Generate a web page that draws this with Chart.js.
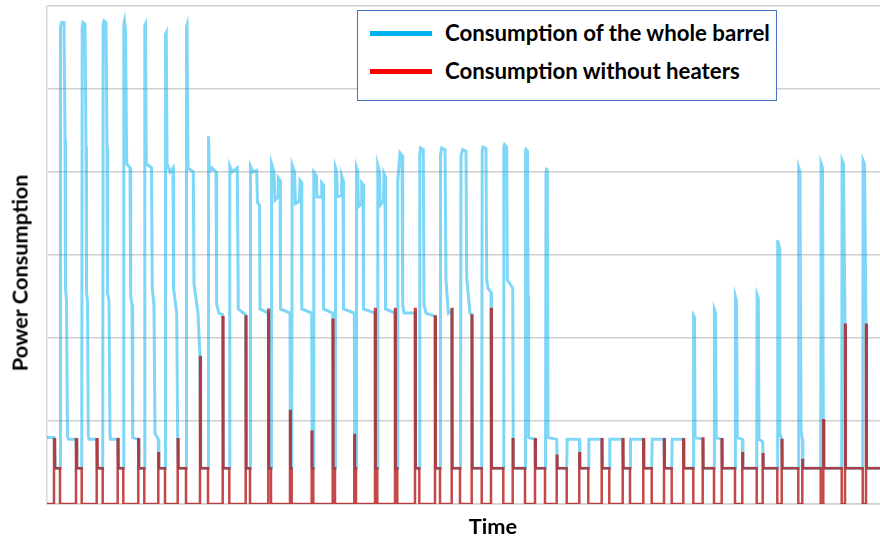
<!DOCTYPE html>
<html>
<head>
<meta charset="utf-8">
<script src="https://cdn.jsdelivr.net/npm/chart.js@4"></script>
<style>
  html, body { margin: 0; padding: 0; background: #fff; }
  #wrap { position: relative; width: 880px; height: 539px; overflow: hidden; font-family: Lato, "Open Sans", sans-serif; }
  #c { position: absolute; left: 0; top: 0; }
  .lbl { position: absolute; font-weight: bold; color: #000; white-space: nowrap; line-height: 1; }
  #legend { position: absolute; left: 357px; top: 10px; width: 418px; height: 89px; border: 1.5px solid #4472C4; background: #fff; }
  .sw { position: absolute; left: 12px; width: 62px; height: 5px; }
  .lt { position: absolute; left: 87px; font-weight: bold; white-space: nowrap; line-height: 1; color: #000; }
</style>
</head>
<body>
<div id="wrap">
  <canvas id="c" width="880" height="539"></canvas>
  <div id="legend">
    <div class="sw" style="top:20px; background:#00B0F0;"></div>
    <div class="lt" id="lt1">Consumption of the whole barrel</div>
    <div class="sw" style="top:58px; background:#FF0000;"></div>
    <div class="lt" id="lt2">Consumption without heaters</div>
  </div>
  <div class="lbl" id="ytitle">Power Consumption</div>
  <div class="lbl" id="xtitle">Time</div>
</div>
<script>
// ---- data (time in arbitrary units, power in arbitrary units) ----
const seriesNames = ["Consumption of the whole barrel", "Consumption without heaters"];
const yTicks = [0, 1, 2, 3, 4, 5, 6];

const blueTime = [47,54,54.5,55.3,60,60.5,61.5,64,65,65.5,66.5,67.5,68.5,76,76.8,81.7,82.2,83,85,86,86.5,87.5,88.3,89,96.7,97.4,102.7,103.2,104,106,107,107.5,109,110,110.5,117.7,118.4,123.3,123.8,124.5,125.5,126.7,130,130.7,132,132.7,138.3,138.9,144.3,144.8,145.5,146.3,151.5,152.3,154,155,158.3,158.9,165,165.5,166.3,167,170,173,173.5,176.7,177.7,178.4,186,186.5,187,188,193.3,194,198,200,200.6,208,208.5,209.3,212,216,216.7,219,222.7,223.3,229.3,229.8,232,237.3,238.3,245.7,246.3,250,250.5,253,256.7,257.5,259.5,260,268.3,268.9,271,271.5,274,275,278,278.3,280,280.5,290,290.5,291.7,292.2,294.5,295.5,299.5,300,301.3,301.8,311.7,312.2,313.3,313.8,316.5,317,321.3,321.7,323,323.5,332.7,333.3,335,335.5,336.7,337.2,341.3,341.7,343,343.5,354.3,354.8,356,356.5,357.8,358.3,361.3,361.7,363,363.5,375,375.6,377.3,377.8,379.5,380.2,383.5,384,385,385.5,395,395.6,397.3,397.8,400,402,402.7,404,415,415.6,419.3,419.8,420.5,423.3,424,426,435,435.6,440,440.5,441.7,445,446,448.3,451.7,452.3,460.5,461,462.7,466,466.7,470,471.7,472.3,481.7,482.2,483,486,486.7,488,491,491.6,503.3,503.8,504.5,506.7,507.3,510,512.7,513.3,525,525.5,526,527.5,528,528.6,535,535.6,545.5,546,546.5,547.3,548,556.7,557.3,566.7,567.2,579.3,579.9,588.3,588.8,601.7,602.3,609.3,609.8,622.7,623.3,630,630.5,643.3,643.9,651.7,652.2,664,664.6,671.7,672.2,683.3,683.9,693.3,693.6,694.5,695,702.7,703.3,714,714.4,715.5,716.2,721.7,722.3,735,735.4,736.5,737.3,742.3,742.9,756.7,757.1,758.3,759,762.7,763.3,777.3,777.7,779,779.8,781.7,782.3,798.3,798.7,800,801,802.3,802.9,820.7,821.1,822.5,823.3,823.9,841.7,842.1,843.5,845,845.6,862.7,863.1,864.5,866,866.6,880];
const bluePower = [0.8,0.8,0.78,0.43,0.43,5.75,5.8,5.8,4.4,2.6,2.45,0.82,0.78,0.78,0.43,0.43,5.75,5.8,5.78,4.3,2.55,2.45,0.82,0.78,0.78,0.43,0.43,5.78,5.82,5.8,4.3,2.55,2.45,0.82,0.78,0.78,0.43,0.43,5.78,5.82,5.7,4.1,4.05,2.5,2.4,0.8,0.78,0.43,0.43,5.76,5.78,4.1,4.05,2.6,2.4,0.85,0.78,0.43,0.43,5.66,5.68,4.1,4.0,4.05,2.6,2.3,0.78,0.43,0.43,5.75,5.77,4.05,4.0,2.65,2.3,1.77,0.43,0.43,4.43,4.0,4.05,4.0,2.4,2.3,2.28,0.43,0.43,4.07,4.0,4.05,2.35,2.28,0.43,0.43,4.07,4.0,4.02,3.63,3.6,2.35,2.3,0.43,0.43,4.1,4.0,3.66,3.7,3.93,3.9,2.35,2.3,0.43,0.43,4.08,4.0,3.62,3.65,3.9,3.88,2.35,2.3,0.43,0.43,4.0,3.95,3.7,3.7,3.87,3.85,2.35,2.3,0.43,0.43,4.05,4.0,3.7,3.72,3.95,3.9,2.35,2.3,0.43,0.43,4.05,4.0,3.58,3.62,3.87,3.85,2.35,2.3,0.43,0.43,4.08,4.0,3.6,3.65,3.98,3.95,2.35,2.3,0.43,0.43,3.9,4.23,4.2,2.4,2.3,2.3,0.43,0.43,4.2,4.29,4.27,2.4,2.3,2.26,0.43,0.43,4.2,4.29,4.27,2.7,2.3,2.33,0.43,0.43,4.2,4.27,4.25,2.73,2.3,2.28,0.43,0.43,4.25,4.3,4.28,2.7,2.6,2.55,0.43,0.43,4.3,4.33,4.3,2.7,2.65,2.6,0.43,0.43,4.25,4.27,4.25,2.5,0.8,0.78,0.43,0.43,4.0,4.05,4.0,0.8,0.78,0.43,0.43,0.78,0.78,0.43,0.43,0.78,0.78,0.43,0.43,0.78,0.78,0.43,0.43,0.78,0.78,0.43,0.43,0.78,0.78,0.43,0.43,0.78,0.78,0.43,0.43,2.27,2.25,0.8,0.78,0.43,0.43,2.34,2.3,0.8,0.78,0.43,0.43,2.5,2.45,0.8,0.78,0.43,0.43,2.52,2.48,0.78,0.75,0.43,0.43,3.18,3.1,0.85,0.78,0.43,0.43,4.05,4.0,0.9,0.78,0.43,0.43,4.1,4.05,1.01,0.43,0.43,4.14,4.1,2.16,0.43,0.43,4.14,4.1,2.16,0.43,0.43];

const redTime = [47,54,55,60,76,77,81.7,96.7,97.5,102.7,117.7,118.5,123.3,138.3,139,144.3,158.3,159,165,177.7,178.5,186,200,200.7,208,222.7,223.4,229.3,245.7,246.4,250,268.3,269,271,290,290.7,291.7,311.7,312.3,313.3,332.7,333.4,335,354.3,354.9,356,375,375.7,377.3,395,395.7,397.3,415,415.7,419.3,435,435.7,440,451.7,452.4,460,471.7,472.4,481.7,491,491.7,503.3,512.7,513.4,525,535,535.7,545,556.7,557.4,566.7,579.3,580,588.3,601.7,602.4,609.3,622.7,623.4,630,643.3,644,651.7,664,664.7,671.7,683.3,684,693.3,702.7,703.4,714,721.7,722.4,735,742.3,743,756.7,762.7,763.4,777.3,781.7,782.4,798.3,802.3,803,820.7,823.3,824,841.7,845,845.7,862.7,866,866.7,880];
const redPower = [0,0.78,0.43,0,0.78,0.43,0,0.78,0.43,0,0.78,0.43,0,0.78,0.43,0,0.61,0.43,0,0.78,0.43,0,1.77,0.43,0,2.25,0.43,0,2.26,0.43,0,2.34,0.43,0,1.12,0.43,0,0.87,0.43,0,2.22,0.43,0,0.83,0.43,0,2.35,0.43,0,2.35,0.43,0,2.35,0.43,0,2.26,0.43,0,2.35,0.43,0,2.27,0.43,0,2.35,0.43,0,0.78,0.43,0,0.78,0.43,0,0.58,0.43,0,0.61,0.43,0,0.78,0.43,0,0.78,0.43,0,0.78,0.43,0,0.78,0.43,0,0.78,0.43,0,0.79,0.43,0,0.78,0.43,0,0.61,0.43,0,0.6,0.43,0,0.77,0.43,0,0.53,0.43,0,1.01,0.43,0,2.16,0.43,0,2.16,0.43,0.43];

// ---- chart ----
const toPts = (t, v) => t.map((x, i) => ({ x: x, y: v[i] }));

new Chart(document.getElementById('c'), {
  type: 'line',
  data: {
    datasets: [
      {
        label: seriesNames[1],
        data: toPts(redTime, redPower),
        borderColor: 'rgba(180,20,20,0.78)',
        borderWidth: 2.5,
        stepped: true,
        pointRadius: 0,
        order: 0
      },
      {
        label: seriesNames[0],
        data: toPts(blueTime, bluePower),
        borderColor: 'rgba(0,176,240,0.5)',
        borderWidth: 3,
        tension: 0,
        pointRadius: 0,
        order: 1
      }
    ]
  },
  options: {
    responsive: false,
    animation: false,
    layout: { padding: { top: 6, right: 0, left: 0, bottom: 0 } },
    plugins: { legend: { display: false }, tooltip: { enabled: false } },
    scales: {
      x: {
        type: 'linear',
        min: 47, max: 880,
        ticks: { display: false },
        grid: { display: false },
        border: { display: true, color: '#d0d0d0', width: 1.5 },
        afterFit: s => { s.height = 35; }
      },
      y: {
        min: 0, max: 6,
        afterBuildTicks: s => { s.ticks = yTicks.map(v => ({ value: v })); },
        ticks: { display: false },
        grid: { color: '#cfcfcf', lineWidth: 1.5, drawTicks: false },
        border: { display: true, color: '#d9d9d9', width: 1.5 },
        afterFit: s => { s.width = 47; }
      }
    }
  }
});

// ---- text layout ----
function fitWidth(el, target) {
  el.style.fontSize = '20px';
  const w = el.getBoundingClientRect().width;
  el.style.fontSize = (20 * target / w) + 'px';
}
const lt1 = document.getElementById('lt1');
const lt2 = document.getElementById('lt2');
fitWidth(lt1, 325);
lt2.style.fontSize = lt1.style.fontSize;
const fs = parseFloat(lt1.style.fontSize);
lt1.style.top = (22 - fs * 0.5) + 'px';
lt2.style.top = (60 - fs * 0.5) + 'px';

const yt = document.getElementById('ytitle');
fitWidth(yt, 197);
const ytw = yt.getBoundingClientRect().width, yth = yt.getBoundingClientRect().height;
yt.style.left = (20 - ytw / 2) + 'px';
yt.style.top = (273 - yth / 2) + 'px';
yt.style.transform = 'rotate(-90deg)';

const xt = document.getElementById('xtitle');
xt.style.fontSize = yt.style.fontSize;
const xtw = xt.getBoundingClientRect().width, xth = xt.getBoundingClientRect().height;
xt.style.left = (493 - xtw / 2) + 'px';
xt.style.top = (527 - xth / 2) + 'px';
</script>
</body>
</html>
